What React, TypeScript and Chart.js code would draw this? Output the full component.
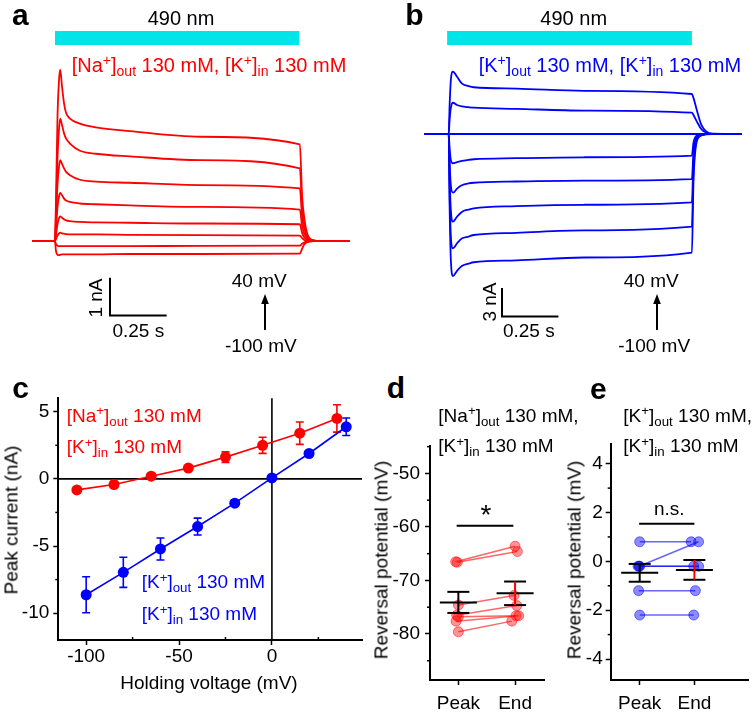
import React, { useEffect, useRef } from "react";
import { Chart, registerables } from "chart.js";

Chart.register(...registerables);

const FONT = "'Liberation Sans', Arial, Helvetica, sans-serif";
const RED = "#ff0000";
const BLUE = "#0000ff";
const CYAN = "rgb(0,230,232)";

// ---------------- Panel a : traces (time s from light onset, current nA) ----------------
const A_TIME = [-0.1, 0, 0.004, 0.011, 0.018, 0.023, 0.031, 0.04, 0.049, 0.066, 0.11, 0.18, 0.33, 0.64, 1.08, 1.09, 1.1, 1.115, 1.14, 1.17, 1.3];
const A_I_P40 = [0, 0, 1.0, 3.3, 4.3, 4.55, 4.1, 3.65, 3.4, 3.25, 3.12, 3.02, 2.92, 2.77, 2.57, 1.2, 0.6, 0.16, 0.02, 0, 0];
const A_I_P20 = [0, 0, 0.7, 2.2, 3.0, 3.25, 3.08, 2.86, 2.72, 2.59, 2.4, 2.32, 2.25, 2.15, 1.93, 0.9, 0.45, 0.12, 0.02, 0, 0];
const A_I_0 = [0, 0, 0.5, 1.5, 2.0, 2.15, 2.05, 1.93, 1.84, 1.75, 1.63, 1.58, 1.55, 1.49, 1.4, 0.65, 0.32, 0.09, 0.015, 0, 0];
const A_I_M20 = [0, 0, 0.3, 0.9, 1.2, 1.28, 1.22, 1.13, 1.08, 1.04, 1.0, 0.98, 0.95, 0.91, 0.84, 0.4, 0.19, 0.05, 0.01, 0, 0];
const A_I_M40 = [0, 0, 0.15, 0.45, 0.62, 0.66, 0.62, 0.58, 0.55, 0.53, 0.51, 0.5, 0.49, 0.47, 0.45, 0.22, 0.1, 0.03, 0, 0, 0];
const A_I_M60 = [0, 0, 0.05, 0.15, 0.21, 0.23, 0.21, 0.2, 0.19, 0.18, 0.18, 0.18, 0.17, 0.16, 0.15, 0.08, 0.03, 0.01, 0, 0, 0];
const A_I_M80 = [0, 0, -0.08, -0.12, -0.13, -0.13, -0.13, -0.13, -0.13, -0.13, -0.13, -0.13, -0.13, -0.125, -0.12, -0.07, -0.03, -0.01, 0, 0, 0];
const A_I_M100 = [0, 0, -0.25, -0.36, -0.37, -0.36, -0.35, -0.35, -0.35, -0.35, -0.35, -0.35, -0.34, -0.34, -0.33, -0.2, -0.08, -0.02, 0, 0, 0];
const A_TRACES = [A_I_P40, A_I_P20, A_I_0, A_I_M20, A_I_M40, A_I_M60, A_I_M80, A_I_M100];

// ---------------- Panel b : traces ----------------
const B_TIME = [-0.107, 0, 0.004, 0.01, 0.019, 0.037, 0.058, 0.088, 0.111, 0.3, 0.6, 1.078, 1.085, 1.1, 1.12, 1.14, 1.17, 1.3];
const B_I_P40 = [0, 0, 3.0, 5.8, 6.56, 6.03, 5.33, 5.05, 4.92, 4.78, 4.55, 4.21, 3.8, 2.5, 0.95, 0.3, 0.03, 0];
const B_I_P20 = [0, 0, 1.5, 2.8, 3.29, 3.05, 2.9, 2.82, 2.77, 2.65, 2.47, 2.24, 2.0, 1.3, 0.5, 0.16, 0.02, 0];
const B_I_0 = [0, 0, 0, 0, 0, 0, 0, 0, 0, 0, 0, 0, 0, 0, 0, 0, 0, 0];
const B_I_M20 = [0, 0, -1.5, -2.8, -3.08, -2.95, -2.82, -2.72, -2.66, -2.55, -2.45, -2.28, -0.9, -0.15, -0.03, 0, 0, 0];
const B_I_M40 = [0, 0, -3.0, -5.5, -6.18, -5.75, -5.4, -5.2, -5.13, -5.0, -4.9, -4.74, -1.9, -0.3, -0.06, -0.01, 0, 0];
const B_I_M60 = [0, 0, -4.5, -8.2, -9.23, -8.7, -8.2, -7.95, -7.82, -7.6, -7.45, -7.19, -2.9, -0.45, -0.1, -0.02, 0, 0];
const B_I_M80 = [0, 0, -6, -11, -12.03, -11.5, -11.0, -10.8, -10.63, -10.4, -10.15, -9.76, -3.9, -0.6, -0.13, -0.02, 0, 0];
const B_I_M100 = [0, 0, -7.5, -13.5, -14.95, -14.4, -13.9, -13.65, -13.5, -13.3, -13.0, -12.49, -5.0, -0.75, -0.16, -0.03, 0, 0];
const B_TRACES = [B_I_P40, B_I_P20, B_I_0, B_I_M20, B_I_M40, B_I_M60, B_I_M80, B_I_M100];

// light stimulus (s) and scale bars
const A_STIM = [0, 1.078];
const B_STIM = [-0.007, 1.078];
const SCALE_T = 0.25; // s
const A_SCALE_I = 1; // nA
const B_SCALE_I = 3; // nA

// ---------------- Panel c : I-V ----------------
const C_NA_V = [-105, -85, -65, -45, -25, -5, 15, 35];
const C_NA_I = [-0.82, -0.42, 0.2, 0.8, 1.62, 2.5, 3.4, 4.5];
const C_NA_ERR = [0.1, 0.1, 0.12, 0.15, 0.39, 0.6, 0.83, 1.02];
const C_K_V = [-100, -80, -60, -40, -20, 0, 20, 40];
const C_K_I = [-8.63, -6.96, -5.22, -3.55, -1.81, 0.07, 1.89, 3.88];
const C_K_ERR = [1.34, 1.12, 0.82, 0.63, 0.2, 0.1, 0.15, 0.65];
const C_X_TICKS = [-100, -50, 0];
const C_X_MINOR = [-75, -25, 25];
const C_Y_TICKS = [-10, -5, 0, 5];
const C_Y_MINOR = [-7.5, -2.5, 2.5];

// ---------------- Panel d : reversal potential (Na out) ----------------
const CATS = ["Peak", "End"];
const D_PEAK = [-66.5, -66.6, -74.6, -76.5, -76.8, -77.6, -79.6];
const D_END = [-63.6, -64.6, -72.8, -74.7, -76.6, -76.6, -77.6];
const D_PEAK_JIT = [-0.047, -0.018, 0, -0.03, 0, -0.04, 0];
const D_END_JIT = [0, 0.04, -0.018, 0.03, 0.018, 0.064, -0.058];
const D_MEAN = [-74.1, -72.4];
const D_SEM = [1.97, 2.2];
const D_SIG = [-0.03, 0.97];
const D_SIG_Y = -59.8;
const D_Y_TICKS = [-80, -70, -60, -50];
const D_Y_MINOR = [-85, -75, -65, -55, -45];

// ---------------- Panel e : reversal potential (K out) ----------------
const E_PEAK = [0.8, -0.2, -0.2, -0.2, -1.2, -2.2];
const E_END = [0.8, 0.8, -0.2, -0.2, -1.2, -2.2];
const E_PEAK_JIT = [0, -0.01, -0.03, 0, -0.02, 0];
const E_END_JIT = [-0.06, 0.077, -0.012, 0.077, 0.018, -0.012];
const E_MEAN = [-0.47, -0.35];
const E_SEM = [0.365, 0.405];
const E_SIG = [-0.01, 1.0];
const E_SIG_Y = 1.54;
const E_Y_TICKS = [-4, -2, 0, 2, 4];
const E_Y_MINOR = [-3, -1, 1, 3];

// ---------------- layout ----------------
type Box = { left: number; top: number; width: number; height: number };
const A_BOX: Box = { left: 20, top: 25, width: 340, height: 300 };
const B_BOX: Box = { left: 415, top: 25, width: 339, height: 300 };
const C_BOX: Box = { left: 0, top: 380, width: 372, height: 332 };
const D_BOX: Box = { left: 370, top: 430, width: 180, height: 282 };
const E_BOX: Box = { left: 555, top: 430, width: 199, height: 282 };

// ---------------- plugins ----------------
const stimPlugin = {
  id: "stim",
  afterDraw(chart: any, _a: any, o: any) {
    const { ctx, scales } = chart;
    const x = scales.x, y = scales.y;
    ctx.save();
    ctx.fillStyle = o.color;
    const x0 = x.getPixelForValue(o.on), x1 = x.getPixelForValue(o.off);
    ctx.fillRect(x0, o.barTop, x1 - x0, o.barHeight);
    const sx = x.getPixelForValue(o.sbT), sx2 = x.getPixelForValue(o.sbT + o.sbDt);
    const sy = y.getPixelForValue(o.sbI), sy2 = y.getPixelForValue(o.sbI + o.sbDi);
    ctx.strokeStyle = "#000";
    ctx.lineWidth = 2;
    ctx.beginPath();
    ctx.moveTo(sx, sy2);
    ctx.lineTo(sx, sy);
    ctx.lineTo(sx2, sy);
    ctx.stroke();
    ctx.restore();
  },
};

const minorTicksPlugin = {
  id: "minorTicks",
  afterDraw(chart: any, _a: any, o: any) {
    const { ctx, chartArea, scales } = chart;
    ctx.save();
    ctx.strokeStyle = "#000";
    ctx.lineWidth = 1.5;
    (o.x || []).forEach((v: number) => {
      const px = scales.x.getPixelForValue(v);
      ctx.beginPath();
      ctx.moveTo(px, chartArea.bottom);
      ctx.lineTo(px, chartArea.bottom + o.xLen);
      ctx.stroke();
    });
    (o.y || []).forEach((v: number) => {
      const py = scales.y.getPixelForValue(v);
      ctx.beginPath();
      ctx.moveTo(chartArea.left, py);
      ctx.lineTo(chartArea.left - o.yLen, py);
      ctx.stroke();
    });
    ctx.restore();
  },
};

const errorBarPlugin = {
  id: "errorBars",
  beforeDatasetsDraw(chart: any) {
    const { ctx, scales } = chart;
    chart.data.datasets.forEach((ds: any, di: number) => {
      if (!ds.errors) return;
      const meta = chart.getDatasetMeta(di);
      ctx.save();
      ctx.strokeStyle = ds.borderColor;
      ctx.lineWidth = 1.6;
      meta.data.forEach((pt: any, j: number) => {
        const v = ds.data[j].y, e = ds.errors[j];
        const t = scales.y.getPixelForValue(v + e), b = scales.y.getPixelForValue(v - e);
        ctx.beginPath();
        ctx.moveTo(pt.x, t); ctx.lineTo(pt.x, b);
        ctx.moveTo(pt.x - 4, t); ctx.lineTo(pt.x + 4, t);
        ctx.moveTo(pt.x - 4, b); ctx.lineTo(pt.x + 4, b);
        ctx.stroke();
      });
      ctx.restore();
    });
  },
};

const refLinesPlugin = {
  id: "refLines",
  beforeDatasetsDraw(chart: any) {
    const { ctx, chartArea, scales } = chart;
    const x0 = scales.x.getPixelForValue(0), y0 = scales.y.getPixelForValue(0);
    ctx.save();
    ctx.strokeStyle = "#000";
    ctx.lineWidth = 1.6;
    ctx.beginPath();
    ctx.moveTo(chartArea.left, y0); ctx.lineTo(chartArea.right, y0);
    ctx.moveTo(x0, chartArea.top); ctx.lineTo(x0, chartArea.bottom);
    ctx.stroke();
    ctx.restore();
  },
};

const summaryPlugin = {
  id: "summary",
  afterDatasetsDraw(chart: any, _a: any, o: any) {
    const { ctx, scales } = chart;
    const x = scales.x, y = scales.y;
    const seg = (a: number, b: number, c: number, d: number) => {
      ctx.beginPath(); ctx.moveTo(a, b); ctx.lineTo(c, d); ctx.stroke();
    };
    ctx.save();
    ctx.lineWidth = 2;
    o.means.forEach((m: number, i: number) => {
      const cx = x.getPixelForValue(i);
      const py = y.getPixelForValue(m);
      const pt = y.getPixelForValue(m + o.sems[i]);
      const pb = y.getPixelForValue(m - o.sems[i]);
      ctx.strokeStyle = "#000";
      seg(cx - 18.5, py, cx + 18.5, py);
      seg(cx - 11, pt, cx + 11, pt);
      seg(cx - 11, pb, cx + 11, pb);
      ctx.strokeStyle = o.stems[i];
      seg(cx, pt, cx, pb);
    });
    ctx.strokeStyle = "#000";
    const sy = y.getPixelForValue(o.sigY);
    seg(x.getPixelForValue(o.sig[0]), sy, x.getPixelForValue(o.sig[1]), sy);
    ctx.restore();
  },
};

// ---------------- config builders ----------------
function linAxis(min: number, max: number, ticks: number[], isX: boolean, size: number, pad: number, label?: (v: number) => string) {
  return {
    type: "linear",
    position: isX ? "bottom" : "left",
    min,
    max,
    afterBuildTicks: (s: any) => {
      s.ticks = ticks.map((v) => ({ value: v }));
    },
    afterFit: (s: any) => {
      if (isX) s.height = size;
      else s.width = size;
    },
    ticks: {
      autoSkip: false,
      maxRotation: 0,
      minRotation: 0,
      color: "#000",
      padding: pad,
      font: { family: FONT, size: 19 },
      callback: (v: any) => (label ? label(Number(v)) : String(v)),
    },
    grid: { display: true, drawOnChartArea: false, drawTicks: true, tickLength: 5, tickColor: "#000", tickWidth: 1.5 },
    border: { display: true, color: "#000", width: 2 },
  };
}

function traceConfig(box: Box, time: number[], traces: number[][], color: string, map: any, stim: number[], sbT: number, sbI: number, sbDi: number, barTop: number) {
  const xMin = (box.left - map.x0) / map.pxPerS;
  const xMax = (box.left + box.width - map.x0) / map.pxPerS;
  const yMax = (map.y0 - box.top) / map.pxPerNA;
  const yMin = (map.y0 - box.top - box.height) / map.pxPerNA;
  return {
    type: "line",
    data: {
      datasets: traces.map((tr) => ({
        data: time.map((t, i) => ({ x: t, y: tr[i] })),
        borderColor: color,
        borderWidth: 1.8,
        pointRadius: 0,
        cubicInterpolationMode: "monotone",
        fill: false,
        clip: false,
      })),
    },
    options: {
      animation: false,
      responsive: false,
      events: [],
      layout: { padding: 0 },
      scales: {
        x: { type: "linear", display: false, min: xMin, max: xMax },
        y: { type: "linear", display: false, min: yMin, max: yMax },
      },
      plugins: {
        legend: { display: false },
        tooltip: { enabled: false },
        stim: {
          color: CYAN,
          on: stim[0],
          off: stim[1],
          barTop: barTop - box.top,
          barHeight: 14,
          sbT,
          sbI,
          sbDt: SCALE_T,
          sbDi,
        },
      },
    },
    plugins: [stimPlugin],
  };
}

function cConfig() {
  const mk = (vs: number[], is: number[], es: number[], col: string) => ({
    data: vs.map((v, i) => ({ x: v, y: is[i] })),
    errors: es,
    showLine: true,
    borderColor: col,
    backgroundColor: col,
    borderWidth: 1.6,
    pointRadius: 5.5,
    pointBorderWidth: 0,
    pointBackgroundColor: col,
  });
  return {
    type: "scatter",
    data: { datasets: [mk(C_NA_V, C_NA_I, C_NA_ERR, RED), mk(C_K_V, C_K_I, C_K_ERR, BLUE)] },
    options: {
      animation: false,
      responsive: false,
      events: [],
      layout: { padding: { left: 0, top: 18.3, right: 10, bottom: 0 } },
      scales: {
        x: linAxis(-115, 48.5, C_X_TICKS, true, 72, 0),
        y: linAxis(-12, 6, C_Y_TICKS, false, 58.3, 4),
      },
      plugins: {
        legend: { display: false },
        tooltip: { enabled: false },
        minorTicks: { x: C_X_MINOR, y: C_Y_MINOR, xLen: -3, yLen: 3 },
      },
    },
    plugins: [refLinesPlugin, errorBarPlugin, minorTicksPlugin],
  };
}

function pairConfig(p: any) {
  const datasets = p.peak.map((v: number, i: number) => ({
    data: [
      { x: p.peakJit[i], y: v },
      { x: 1 + p.endJit[i], y: p.end[i] },
    ],
    showLine: true,
    borderColor: p.line,
    borderWidth: 1.5,
    pointRadius: 5,
    pointBackgroundColor: p.fill,
    pointBorderColor: p.edge,
    pointBorderWidth: 1,
  }));
  return {
    type: "scatter",
    data: { datasets },
    options: {
      animation: false,
      responsive: false,
      events: [],
      layout: { padding: { left: 0, top: p.padTop, right: p.padRight, bottom: 0 } },
      scales: {
        x: linAxis(p.xMin, p.xMax, [0, 1], true, 32, 7, (v) => CATS[v] ?? ""),
        y: linAxis(p.yMin, p.yMax, p.yTicks, false, p.yWidth, p.yPad),
      },
      plugins: {
        legend: { display: false },
        tooltip: { enabled: false },
        minorTicks: { x: [], y: p.yMinor, xLen: 3, yLen: 3 },
        summary: { means: p.mean, sems: p.sem, stems: ["#000", RED], sig: p.sig, sigY: p.sigY },
      },
    },
    plugins: [minorTicksPlugin, summaryPlugin],
  };
}

// ---------------- components ----------------
function ChartCanvas({ box, make }: { box: Box; make: () => any }) {
  const ref = useRef<HTMLCanvasElement>(null);
  useEffect(() => {
    const chart = new Chart(ref.current as HTMLCanvasElement, make());
    return () => chart.destroy();
  }, []);
  return (
    <canvas
      ref={ref}
      width={box.width}
      height={box.height}
      style={{ position: "absolute", left: box.left, top: box.top, width: box.width, height: box.height }}
    />
  );
}

const Sup = ({ children }: any) => (
  <span style={{ fontSize: "0.7em", position: "relative", top: "-0.48em" }}>{children}</span>
);
const Sub = ({ children }: any) => (
  <span style={{ fontSize: "0.7em", position: "relative", top: "0.3em" }}>{children}</span>
);

function Txt({ x, base, size = 19, color = "#000", align = "left", bold = false, children }: any) {
  return (
    <div
      style={{
        position: "absolute",
        left: x,
        top: base - 0.8465 * size,
        fontSize: size,
        lineHeight: `${size}px`,
        fontFamily: FONT,
        fontWeight: bold ? 700 : 400,
        color,
        whiteSpace: "nowrap",
        transform: align === "center" ? "translateX(-50%)" : undefined,
      }}
    >
      {children}
    </div>
  );
}

function VTxt({ cx, cy, size = 19, children }: any) {
  return (
    <div
      style={{
        position: "absolute",
        left: cx,
        top: cy,
        fontSize: size,
        lineHeight: `${size}px`,
        fontFamily: FONT,
        color: "#000",
        whiteSpace: "nowrap",
        transform: "translate(-50%,-50%) rotate(-90deg)",
      }}
    >
      {children}
    </div>
  );
}

function Arrow({ x, top, bottom }: any) {
  const h = bottom - top;
  return (
    <svg style={{ position: "absolute", left: x - 6, top }} width={12} height={h}>
      <line x1={6} y1={8} x2={6} y2={h} stroke="#000" strokeWidth={2} />
      <polygon points="6,0 2.2,10 9.8,10" fill="#000" />
    </svg>
  );
}

const A_MAP = { x0: 55, pxPerS: 226.7, y0: 241.2, pxPerNA: 37.7 };
const B_MAP = { x0: 448.7, pxPerS: 225.6, y0: 134, pxPerNA: 9.5 };

export default function App() {
  return (
    <div
      style={{
        position: "absolute",
        left: 0,
        top: 0,
        width: 754,
        height: 712,
        background: "#fff",
        overflow: "hidden",
        fontFamily: FONT,
      }}
    >
      <ChartCanvas
        box={A_BOX}
        make={() => traceConfig(A_BOX, A_TIME, A_TRACES, RED, A_MAP, A_STIM, 0.2426, (A_MAP.y0 - 315.5) / A_MAP.pxPerNA, A_SCALE_I, 31)}
      />
      <ChartCanvas
        box={B_BOX}
        make={() => traceConfig(B_BOX, B_TIME, B_TRACES, BLUE, B_MAP, B_STIM, 0.2363, (B_MAP.y0 - 316.5) / B_MAP.pxPerNA, B_SCALE_I, 31)}
      />
      <ChartCanvas box={C_BOX} make={cConfig} />
      <ChartCanvas
        box={D_BOX}
        make={() =>
          pairConfig({
            peak: D_PEAK, end: D_END, peakJit: D_PEAK_JIT, endJit: D_END_JIT,
            mean: D_MEAN, sem: D_SEM, sig: D_SIG, sigY: D_SIG_Y,
            yMin: -88.6, yMax: -44.95, yTicks: D_Y_TICKS, yMinor: D_Y_MINOR,
            xMin: -0.5, xMax: 1.51, yWidth: 60, yPad: 5, padTop: 13.3, padRight: 6,
            line: "rgba(255,0,0,0.6)", fill: "rgba(255,0,0,0.42)", edge: "rgba(255,0,0,0.5)",
          })
        }
      />
      <ChartCanvas
        box={E_BOX}
        make={() =>
          pairConfig({
            peak: E_PEAK, end: E_END, peakJit: E_PEAK_JIT, endJit: E_END_JIT,
            mean: E_MEAN, sem: E_SEM, sig: E_SIG, sigY: E_SIG_Y,
            yMin: -4.86, yMax: 4.79, yTicks: E_Y_TICKS, yMinor: E_Y_MINOR,
            xMin: -0.53, xMax: 1.98, yWidth: 55.7, yPad: 3, padTop: 11.7, padRight: 1,
            line: "rgba(0,0,255,0.6)", fill: "rgba(0,0,255,0.45)", edge: "rgba(0,0,255,0.5)",
          })
        }
      />

      {/* panel a */}
      <Txt x={12} base={25} size={30} bold>a</Txt>
      <Txt x={181} base={25} size={20} align="center">490 nm</Txt>
      <Txt x={71.7} base={71.7} size={20} color={RED}>
        [Na<Sup>+</Sup>]<Sub>out</Sub> 130 mM, [K<Sup>+</Sup>]<Sub>in</Sub> 130 mM
      </Txt>
      <VTxt cx={94.5} cy={298.3}>1 nA</VTxt>
      <Txt x={138.3} base={337} align="center">0.25 s</Txt>
      <Txt x={259.2} base={286.7} align="center">40 mV</Txt>
      <Arrow x={265} top={294} bottom={330} />
      <Txt x={260.8} base={351.7} align="center">-100 mV</Txt>

      {/* panel b */}
      <Txt x={405.3} base={25} size={30} bold>b</Txt>
      <Txt x={573.7} base={25} size={20} align="center">490 nm</Txt>
      <Txt x={478.7} base={71.7} size={20} color={BLUE}>
        [K<Sup>+</Sup>]<Sub>out</Sub> 130 mM, [K<Sup>+</Sup>]<Sub>in</Sub> 130 mM
      </Txt>
      <VTxt cx={488.5} cy={301.5}>3 nA</VTxt>
      <Txt x={528.8} base={337} align="center">0.25 s</Txt>
      <Txt x={651.2} base={286.7} align="center">40 mV</Txt>
      <Arrow x={657.3} top={293.5} bottom={330} />
      <Txt x={654.2} base={351.7} align="center">-100 mV</Txt>

      {/* panel c */}
      <Txt x={12.3} base={398.3} size={30} bold>c</Txt>
      <Txt x={66.7} base={421.7} color={RED}>
        [Na<Sup>+</Sup>]<Sub>out</Sub> 130 mM
      </Txt>
      <Txt x={66.7} base={453.3} color={RED}>
        [K<Sup>+</Sup>]<Sub>in</Sub> 130 mM
      </Txt>
      <Txt x={141.7} base={588.3} color={BLUE}>
        [K<Sup>+</Sup>]<Sub>out</Sub> 130 mM
      </Txt>
      <Txt x={141.7} base={620} color={BLUE}>
        [K<Sup>+</Sup>]<Sub>in</Sub> 130 mM
      </Txt>
      <VTxt cx={10.8} cy={520}>Peak current (nA)</VTxt>
      <Txt x={209} base={689.3} align="center">Holding voltage (mV)</Txt>

      {/* panel d */}
      <Txt x={386.7} base={398.3} size={30} bold>d</Txt>
      <Txt x={438.3} base={421.7}>
        [Na<Sup>+</Sup>]<Sub>out</Sub> 130 mM,
      </Txt>
      <Txt x={438.3} base={452.3}>
        [K<Sup>+</Sup>]<Sub>in</Sub> 130 mM
      </Txt>
      <VTxt cx={380.5} cy={560}>Reversal potential (mV)</VTxt>
      <Txt x={486} base={525} size={28} align="center">*</Txt>

      {/* panel e */}
      <Txt x={590} base={399.5} size={30} bold>e</Txt>
      <Txt x={623.3} base={421.7}>
        [K<Sup>+</Sup>]<Sub>out</Sub> 130 mM,
      </Txt>
      <Txt x={623.3} base={452.3}>
        [K<Sup>+</Sup>]<Sub>in</Sub> 130 mM
      </Txt>
      <VTxt cx={573.5} cy={560}>Reversal potential (mV)</VTxt>
      <Txt x={669.3} base={515} align="center">n.s.</Txt>
    </div>
  );
}
